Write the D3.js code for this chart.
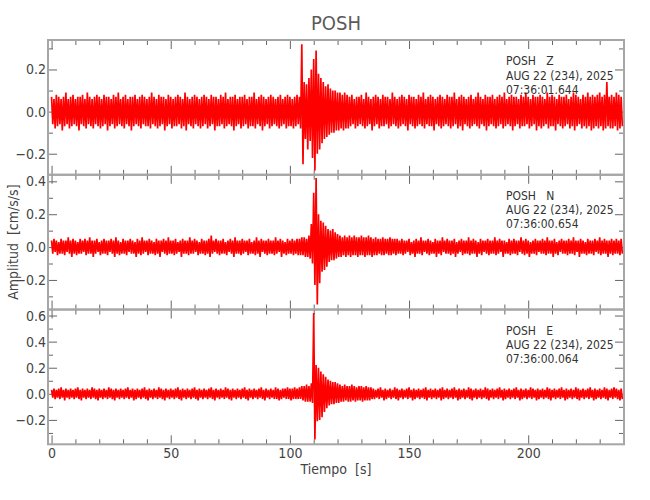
<!DOCTYPE html>
<html>
<head>
<meta charset="utf-8">
<script src="https://cdn.jsdelivr.net/npm/d3@7"></script>
<style>
  body { margin: 0; background: #fff; }
  svg text { font-family: "Liberation Sans Narrow", "DejaVu Sans Condensed", sans-serif; }
</style>
</head>
<body>
<div id="chart"></div>
<script>
// station / component labels
const station = "POSH"
const components = ["Z", "N", "E"]
const dateLabel = "AUG 22 (234), 2025"
const startTimes = ["07:36:01.644", "07:36:00.654", "07:36:00.064"]

// axis ranges and ticks
const xDomain = [-1.5, 240.2]
const xTicks = [0, 50, 100, 150, 200]
const yDomains = [[-0.30, 0.34], [-0.38, 0.44], [-0.387, 0.646]]
const yTicks = [[-0.2, 0, 0.2], [-0.2, 0, 0.2, 0.4], [-0.2, 0, 0.2, 0.4, 0.6]]
const yMinorTicks = [[-0.1, 0.1, 0.3], [-0.3, -0.1, 0.1, 0.3], [-0.3, -0.1, 0.1, 0.3, 0.5]]

// per-second max / min of each trace, in 0.01 cm/s/s (second 0 .. 239)
const zMax = [
  7,6,8,7,6,7,9,6,7,8, 6,7,7,8,6,9,7,6,7,8, 7,6,8,7,7,6,8,7,9,6, 7,8,6,7,7,8,6,7,8,7, 6,7,9,7,6,8,7,7,6,8,
  7,6,7,8,7,6,9,7,6,7, 8,7,6,7,8,7,6,8,7,7, 6,8,7,9,6,7,7,8,6,7, 7,8,6,7,7,9,6,7,8,7, 6,7,8,7,6,7,8,6,7,8,
  7,6,7,8,7, 32,14,13,16,20, 25,29,18,16,14, 12,13,11,10,10, 9,9,8,9,8,
  7,8,6,7,7,8,6,9,7,6, 7,8,7,6,8,7,7,6,9,7, 6,7,8,7,6,8,7,7,6,8, 7,9,6,7,8,7,6,7,8,7, 6,8,7,7,9,6,7,8,7,6,
  7,8,6,7,9,7,6,8,7,7, 8,6,7,8,7,9,6,7,8,7, 7,6,8,7,9,7,6,8,7,7, 8,7,6,9,7,8,7,6,8,7, 7,8,6,7,9,8,7,6,8,7,
  9,7,8,7,8,9,7,8,14,7, 8,7,9,8,7
]
const zMin = [
  -6,-8,-7,-6,-9,-7,-6,-8,-7,-6, -7,-9,-6,-7,-8,-6,-7,-8,-6,-7, -8,-7,-6,-9,-7,-6,-8,-7,-6,-7, -8,-6,-7,-9,-7,-6,-7,-8,-6,-7, -7,-8,-6,-7,-8,-7,-6,-9,-7,-6,
  -8,-7,-7,-6,-8,-7,-9,-6,-7,-8, -6,-7,-8,-7,-6,-8,-7,-6,-9,-7, -7,-6,-8,-7,-6,-7,-9,-7,-6,-8, -7,-6,-8,-7,-7,-8,-6,-7,-9,-7, -6,-8,-7,-6,-7,-8,-7,-6,-8,-7,
  -7,-8,-7,-6,-8, -25,-13,-18,-14,-22, -28,-20,-18,-15,-13, -12,-11,-10,-10,-9, -9,-8,-9,-8,-8,
  -7,-6,-8,-7,-6,-7,-8,-7,-6,-9, -7,-6,-8,-7,-7,-6,-8,-7,-6,-7, -8,-7,-6,-7,-9,-6,-7,-8,-7,-6, -7,-8,-6,-7,-7,-9,-6,-7,-8,-7, -6,-7,-8,-7,-6,-8,-7,-9,-6,-7,
  -8,-7,-6,-7,-8,-6,-7,-9,-7,-6, -7,-8,-7,-6,-8,-7,-6,-7,-9,-7, -6,-8,-7,-7,-6,-8,-7,-6,-9,-7, -8,-7,-6,-8,-7,-7,-9,-6,-7,-8, -7,-6,-8,-7,-9,-7,-6,-8,-7,-8,
  -7,-9,-8,-7,-8,-7,-9,-8,-7,-8, -8,-7,-9,-8,-7
]
const nMax = [
  4,5,4,3,5,4,4,6,4,5, 4,3,5,4,5,4,6,4,4,5, 3,4,5,4,4,5,4,6,4,3, 5,4,4,5,4,3,5,4,6,4, 4,5,4,3,5,4,4,5,4,6,
  4,4,5,3,4,5,4,4,6,4, 5,4,3,5,4,4,5,7,4,5, 4,4,5,3,4,5,4,6,4,4, 5,4,4,5,3,4,6,4,5,4, 4,5,4,4,6,4,5,4,3,5,
  4,5,4,5,5,
  6,6,5,7,14,33,42,20,16,15,13,11,10,11,9,8, 7,6,7,6,7,6,7,6,6,7,6,6,7,6, 5,6,5,5,6,5,5,6,5,5,5,
  4,5,4,4,5,3,4,5,4,6, 4,4,5,4,3,5,4,4,6,4, 5,4,4,5,3,4,5,4,4,6, 4,5,4,3,5,4,4,5,4,4, 6,4,5,4,4,3,5,4,5,4,
  4,6,4,5,4,3,4,5,4,4, 5,4,6,4,4,5,3,4,5,4, 4,5,4,6,4,4,5,4,3,5, 4,4,5,4,6,4,5,4,4,5, 4,5,4,5
]
const nMin = [
  -4,-3,-5,-4,-4,-5,-3,-4,-6,-4, -5,-4,-4,-3,-5,-4,-4,-6,-4,-3, -5,-4,-4,-5,-3,-4,-6,-4,-5,-4, -4,-5,-3,-4,-4,-6,-4,-5,-4,-3, -5,-4,-4,-5,-4,-6,-3,-4,-5,-4,
  -4,-5,-4,-3,-6,-4,-4,-5,-4,-4, -3,-5,-4,-4,-5,-4,-6,-4,-3,-4, -5,-4,-4,-5,-3,-4,-6,-4,-4,-5, -4,-3,-5,-4,-4,-5,-4,-6,-3,-4, -5,-4,-4,-5,-4,-3,-6,-4,-5,-4,
  -4,-5,-4,-5,-5,
  -5,-6,-6,-7,-10,-23,-35,-22,-15,-14,-12,-9,-8,-8,-7,-6, -6,-5,-6,-5,-6,-5,-5,-6,-5,-5,-6,-5,-5,-6, -5,-5,-4,-5,-5,-4,-5,-5,-4,-5,-4,
  -4,-5,-4,-3,-5,-4,-6,-4,-4,-5, -3,-4,-5,-4,-4,-6,-4,-5,-3,-4, -4,-5,-4,-6,-4,-3,-5,-4,-4,-5, -4,-4,-6,-4,-5,-3,-4,-5,-4,-4, -5,-4,-3,-6,-4,-4,-5,-4,-4,-5,
  -3,-4,-5,-4,-6,-4,-4,-5,-3,-4, -4,-5,-4,-4,-6,-4,-5,-3,-4,-4, -5,-4,-4,-5,-3,-6,-4,-4,-5,-4, -4,-5,-3,-4,-5,-4,-4,-6,-4,-5, -4,-4,-5,-4
]
const eMax = [
  3,4,3,4,5,3,4,3,4,3, 4,5,3,4,3,4,3,5,4,3, 4,3,4,3,5,4,3,4,3,4, 3,4,5,3,4,3,4,3,4,5, 3,4,3,4,3,5,4,3,4,3,
  4,3,4,5,3,4,3,4,3,4, 5,3,4,3,4,3,4,5,3,4, 3,4,3,5,4,3,4,3,4,3, 4,5,3,4,3,4,3,4,5,3, 4,3,4,3,5,4,3,4,4,5,
  4,4,5,4,
  5,6,6,7,6,8,62,22,20,17,15,13,11,10,9,9,8, 7,6,7,6,6,7,6,5,6,6,5,6,5,5,
  4,3,4,5,3,4,3,4,3,5, 4,3,4,3,4,5,3,4,3,4, 3,4,5,3,4,3,4,3,4,5, 3,4,3,4,5,3,4,3,4,3, 5,4,3,4,3,4,3,5,4,3,
  4,3,4,5,3,4,3,4,3,4, 5,3,4,3,4,3,5,4,3,4, 3,4,3,5,4,3,4,3,4,5, 3,4,3,4,3,5,4,3,4,3, 4,5,3,4,3,4,3,5,4,3,
  4,5,4,3,4
]
const eMin = [
  -3,-4,-3,-4,-3,-5,-3,-4,-3,-4, -3,-4,-5,-3,-4,-3,-4,-3,-4,-5, -3,-4,-3,-4,-3,-4,-5,-3,-4,-3, -4,-3,-4,-3,-5,-4,-3,-4,-3,-4, -5,-3,-4,-3,-4,-3,-4,-5,-3,-4,
  -3,-4,-3,-4,-5,-3,-4,-3,-4,-3, -4,-5,-3,-4,-3,-4,-3,-4,-5,-3, -4,-3,-4,-3,-4,-5,-3,-4,-3,-4, -3,-4,-5,-3,-4,-3,-4,-3,-4,-5, -3,-4,-3,-4,-4,-5,-4,-3,-4,-4,
  -5,-4,-4,-4,
  -4,-5,-6,-6,-6,-7,-35,-21,-20,-18,-14,-11,-9,-8,-8,-7,-7, -6,-6,-5,-6,-6,-5,-6,-5,-5,-6,-5,-5,-5,-4,
  -4,-3,-4,-3,-5,-4,-3,-4,-3,-4, -5,-3,-4,-3,-4,-3,-5,-4,-3,-4, -3,-4,-5,-3,-4,-3,-4,-3,-5,-4, -3,-4,-3,-4,-3,-5,-4,-3,-4,-3, -4,-5,-3,-4,-3,-4,-3,-4,-5,-3,
  -4,-3,-4,-3,-5,-4,-3,-4,-3,-4, -3,-5,-4,-3,-4,-3,-4,-3,-5,-4, -3,-4,-3,-4,-5,-3,-4,-3,-4,-3, -5,-4,-3,-4,-3,-4,-5,-3,-4,-3, -4,-3,-5,-4,-3,-4,-3,-4,-5,-3,
  -4,-3,-4,-5,-4
]
const traceMax = [zMax, nMax, eMax]
const traceMin = [zMin, nMin, eMin]

const MARGIN = { TOP: 40, BOTTOM: 55.7, LEFT: 48, RIGHT: 26 }
const SVG_W = 650, SVG_H = 500
const WIDTH = SVG_W - MARGIN.LEFT - MARGIN.RIGHT
const PANEL_H = (SVG_H - MARGIN.TOP - MARGIN.BOTTOM) / 3

const FRAME = "#a6a6a6", TICK = "#666", LABEL = "#444"

const svg = d3.select("#chart").append("svg")
    .attr("width", SVG_W)
    .attr("height", SVG_H)

svg.append("text")
    .attr("x", MARGIN.LEFT + WIDTH / 2)
    .attr("y", 30)
    .attr("text-anchor", "middle")
    .attr("font-size", 20)
    .attr("fill", "#5a5a5a")
    .text(station)

const x = d3.scaleLinear().domain(xDomain).range([0, WIDTH])
const xMinor = d3.range(10, 240, 10).filter(v => v % 50 !== 0)
const fmt = d => d === 0 ? "0.0" : d3.format(".1f")(d)

function styleAxis(g) {
    g.select(".domain").remove()
    g.selectAll(".tick line").attr("stroke", TICK)
    g.selectAll(".tick text").attr("fill", LABEL).attr("font-size", 14)
}

components.forEach((comp, i) => {
    const g = svg.append("g")
        .attr("transform", `translate(${MARGIN.LEFT}, ${MARGIN.TOP + i * PANEL_H})`)

    const y = d3.scaleLinear().domain(yDomains[i]).range([PANEL_H, 0])

    // ticks on all four sides, pointing inward
    g.append("g").call(d3.axisLeft(y).tickValues(yTicks[i]).tickSize(-9).tickPadding(2).tickFormat(fmt)).call(styleAxis)
    g.append("g").call(d3.axisLeft(y).tickValues(yMinorTicks[i]).tickSize(-5).tickFormat("")).call(styleAxis)
    g.append("g").attr("transform", `translate(${WIDTH},0)`)
        .call(d3.axisRight(y).tickValues(yTicks[i]).tickSize(-9).tickFormat("")).call(styleAxis)
    g.append("g").attr("transform", `translate(${WIDTH},0)`)
        .call(d3.axisRight(y).tickValues(yMinorTicks[i]).tickSize(-5).tickFormat("")).call(styleAxis)
    g.append("g").call(d3.axisTop(x).tickValues(xTicks).tickSize(-9).tickFormat("")).call(styleAxis)
    g.append("g").call(d3.axisTop(x).tickValues(xMinor).tickSize(-5).tickFormat("")).call(styleAxis)
    const bottom = d3.axisBottom(x).tickValues(xTicks).tickSize(-9).tickPadding(4)
    if (i < 2) bottom.tickFormat("")
    g.append("g").attr("transform", `translate(0,${PANEL_H})`).call(bottom).call(styleAxis)
    g.append("g").attr("transform", `translate(0,${PANEL_H})`)
        .call(d3.axisBottom(x).tickValues(xMinor).tickSize(-5).tickFormat("")).call(styleAxis)

    // the trace: zigzag between the max and min of every second
    const clipId = `clip-${comp}`
    g.append("clipPath").attr("id", clipId)
        .append("rect").attr("width", WIDTH).attr("height", PANEL_H)

    const pts = traceMax[i].flatMap((v, s) => [[s, v / 100], [s + 0.5, traceMin[i][s] / 100]])
    const line = d3.line().x(d => x(d[0])).y(d => y(d[1]))

    g.append("path")
        .datum(pts)
        .attr("clip-path", `url(#${clipId})`)
        .attr("fill", "none")
        .attr("stroke", "#ff0000")
        .attr("stroke-width", 1.7)
        .attr("stroke-linejoin", "miter")
        .attr("d", line)

    g.append("rect")
        .attr("width", WIDTH)
        .attr("height", PANEL_H)
        .attr("fill", "none")
        .attr("stroke", FRAME)
        .attr("stroke-width", 2)

    // station header
    const info = g.append("text")
        .attr("x", 458)
        .attr("y", 25)
        .attr("font-size", 12)
        .attr("fill", "#333")
        .style("white-space", "pre")
    info.append("tspan").attr("x", 458).text(`${station}   ${comp}`)
    info.append("tspan").attr("x", 458).attr("dy", 14.5).text(dateLabel)
    info.append("tspan").attr("x", 458).attr("dy", 14).text(startTimes[i])
})

svg.append("text")
    .attr("x", MARGIN.LEFT + WIDTH / 2)
    .attr("y", 474)
    .attr("text-anchor", "middle")
    .attr("font-size", 14)
    .attr("fill", LABEL)
    .style("white-space", "pre")
    .text("Tiempo  [s]")

svg.append("text")
    .attr("transform", `translate(18, ${MARGIN.TOP + 1.5 * PANEL_H}) rotate(-90)`)
    .attr("text-anchor", "middle")
    .attr("font-size", 14)
    .attr("fill", LABEL)
    .style("white-space", "pre")
    .text("Amplitud  [cm/s/s]")
</script>
</body>
</html>
